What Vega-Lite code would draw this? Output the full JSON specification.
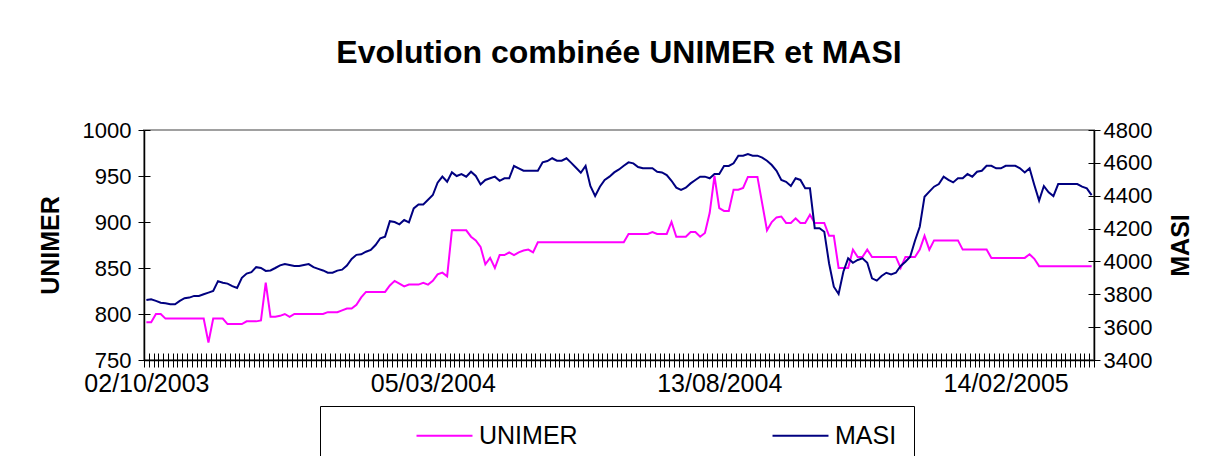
{
"$schema": "https://vega.github.io/schema/vega-lite/v6.json",
"width": 950, "height": 230,
"autosize": "none",
"padding": {"left": 144, "top": 130, "right": 122, "bottom": 96},
"background": "white",
"title": {"text": "Evolution combinée UNIMER et MASI", "fontSize": 32, "font": "Liberation Sans", "fontWeight": "bold", "anchor": "middle", "frame": "group", "baseline": "alphabetic", "offset": 24, "color": "#000"},
"config": {
  "view": {"stroke": "#A0A0A0", "strokeWidth": 2},
  "axis": {"labelFont": "Liberation Sans", "titleFont": "Liberation Sans", "labelColor": "#000", "titleColor": "#000", "domainColor": "#000", "tickColor": "#000", "grid": false}
},
"data": {"values": [
{"i":0,"UNIMER":791,"MASI":3765},{"i":1,"UNIMER":791,"MASI":3770},{"i":2,"UNIMER":800,"MASI":3760},{"i":3,"UNIMER":800,"MASI":3749},{"i":4,"UNIMER":795,"MASI":3745},
{"i":5,"UNIMER":795,"MASI":3739},{"i":6,"UNIMER":795,"MASI":3739},{"i":7,"UNIMER":795,"MASI":3760},{"i":8,"UNIMER":795,"MASI":3776},{"i":9,"UNIMER":795,"MASI":3780},
{"i":10,"UNIMER":795,"MASI":3790},{"i":11,"UNIMER":795,"MASI":3790},{"i":12,"UNIMER":795,"MASI":3800},{"i":13,"UNIMER":769,"MASI":3810},{"i":14,"UNIMER":795,"MASI":3820},
{"i":15,"UNIMER":795,"MASI":3880},{"i":16,"UNIMER":795,"MASI":3870},{"i":17,"UNIMER":789,"MASI":3865},{"i":18,"UNIMER":789,"MASI":3850},{"i":19,"UNIMER":789,"MASI":3838},
{"i":20,"UNIMER":789,"MASI":3900},{"i":21,"UNIMER":792,"MASI":3926},{"i":22,"UNIMER":792,"MASI":3935},{"i":23,"UNIMER":792,"MASI":3965},{"i":24,"UNIMER":793,"MASI":3960},
{"i":25,"UNIMER":834,"MASI":3942},{"i":26,"UNIMER":797,"MASI":3945},{"i":27,"UNIMER":797,"MASI":3960},{"i":28,"UNIMER":798,"MASI":3976},{"i":29,"UNIMER":800,"MASI":3984},
{"i":30,"UNIMER":797,"MASI":3978},{"i":31,"UNIMER":800,"MASI":3972},{"i":32,"UNIMER":800,"MASI":3972},{"i":33,"UNIMER":800,"MASI":3978},{"i":34,"UNIMER":800,"MASI":3984},
{"i":35,"UNIMER":800,"MASI":3965},{"i":36,"UNIMER":800,"MASI":3955},{"i":37,"UNIMER":800,"MASI":3945},{"i":38,"UNIMER":802,"MASI":3931},{"i":39,"UNIMER":802,"MASI":3931},
{"i":40,"UNIMER":802,"MASI":3944},{"i":41,"UNIMER":804,"MASI":3950},{"i":42,"UNIMER":806,"MASI":3975},{"i":43,"UNIMER":806,"MASI":4015},{"i":44,"UNIMER":810,"MASI":4040},
{"i":45,"UNIMER":818,"MASI":4043},{"i":46,"UNIMER":824,"MASI":4059},{"i":47,"UNIMER":824,"MASI":4070},{"i":48,"UNIMER":824,"MASI":4100},{"i":49,"UNIMER":824,"MASI":4141},
{"i":50,"UNIMER":824,"MASI":4151},{"i":51,"UNIMER":831,"MASI":4245},{"i":52,"UNIMER":836,"MASI":4240},{"i":53,"UNIMER":833,"MASI":4226},{"i":54,"UNIMER":830,"MASI":4252},
{"i":55,"UNIMER":832,"MASI":4238},{"i":56,"UNIMER":832,"MASI":4323},{"i":57,"UNIMER":832,"MASI":4347},{"i":58,"UNIMER":834,"MASI":4347},{"i":59,"UNIMER":832,"MASI":4375},
{"i":60,"UNIMER":836,"MASI":4404},{"i":61,"UNIMER":843,"MASI":4479},{"i":62,"UNIMER":845,"MASI":4516},{"i":63,"UNIMER":841,"MASI":4485},{"i":64,"UNIMER":891,"MASI":4542},
{"i":65,"UNIMER":891,"MASI":4520},{"i":66,"UNIMER":891,"MASI":4532},{"i":67,"UNIMER":891,"MASI":4516},{"i":68,"UNIMER":884,"MASI":4546},{"i":69,"UNIMER":880,"MASI":4520},
{"i":70,"UNIMER":873,"MASI":4469},{"i":71,"UNIMER":854,"MASI":4496},{"i":72,"UNIMER":861,"MASI":4506},{"i":73,"UNIMER":850,"MASI":4516},{"i":74,"UNIMER":864,"MASI":4491},
{"i":75,"UNIMER":864,"MASI":4506},{"i":76,"UNIMER":867,"MASI":4506},{"i":77,"UNIMER":864,"MASI":4581},{"i":78,"UNIMER":867,"MASI":4567},{"i":79,"UNIMER":869,"MASI":4552},
{"i":80,"UNIMER":870,"MASI":4552},{"i":81,"UNIMER":867,"MASI":4552},{"i":82,"UNIMER":878,"MASI":4552},{"i":83,"UNIMER":878,"MASI":4603},{"i":84,"UNIMER":878,"MASI":4611},
{"i":85,"UNIMER":878,"MASI":4628},{"i":86,"UNIMER":878,"MASI":4613},{"i":87,"UNIMER":878,"MASI":4613},{"i":88,"UNIMER":878,"MASI":4628},{"i":89,"UNIMER":878,"MASI":4600},
{"i":90,"UNIMER":878,"MASI":4570},{"i":91,"UNIMER":878,"MASI":4540},{"i":92,"UNIMER":878,"MASI":4581},{"i":93,"UNIMER":878,"MASI":4459},{"i":94,"UNIMER":878,"MASI":4398},
{"i":95,"UNIMER":878,"MASI":4455},{"i":96,"UNIMER":878,"MASI":4496},{"i":97,"UNIMER":878,"MASI":4516},{"i":98,"UNIMER":878,"MASI":4542},{"i":99,"UNIMER":878,"MASI":4560},
{"i":100,"UNIMER":878,"MASI":4582},{"i":101,"UNIMER":887,"MASI":4603},{"i":102,"UNIMER":887,"MASI":4597},{"i":103,"UNIMER":887,"MASI":4575},{"i":104,"UNIMER":887,"MASI":4567},
{"i":105,"UNIMER":887,"MASI":4567},{"i":106,"UNIMER":889,"MASI":4567},{"i":107,"UNIMER":887,"MASI":4546},{"i":108,"UNIMER":887,"MASI":4542},{"i":109,"UNIMER":887,"MASI":4526},
{"i":110,"UNIMER":900,"MASI":4491},{"i":111,"UNIMER":884,"MASI":4449},{"i":112,"UNIMER":884,"MASI":4435},{"i":113,"UNIMER":884,"MASI":4449},{"i":114,"UNIMER":889,"MASI":4475},
{"i":115,"UNIMER":889,"MASI":4496},{"i":116,"UNIMER":884,"MASI":4516},{"i":117,"UNIMER":888,"MASI":4516},{"i":118,"UNIMER":910,"MASI":4506},{"i":119,"UNIMER":950,"MASI":4532},
{"i":120,"UNIMER":915,"MASI":4532},{"i":121,"UNIMER":912,"MASI":4581},{"i":122,"UNIMER":912,"MASI":4581},{"i":123,"UNIMER":935,"MASI":4597},{"i":124,"UNIMER":935,"MASI":4644},
{"i":125,"UNIMER":937,"MASI":4644},{"i":126,"UNIMER":949,"MASI":4654},{"i":127,"UNIMER":949,"MASI":4644},{"i":128,"UNIMER":949,"MASI":4644},{"i":129,"UNIMER":920,"MASI":4632},
{"i":130,"UNIMER":891,"MASI":4613},{"i":131,"UNIMER":900,"MASI":4587},{"i":132,"UNIMER":905,"MASI":4552},{"i":133,"UNIMER":906,"MASI":4496},{"i":134,"UNIMER":899,"MASI":4485},
{"i":135,"UNIMER":899,"MASI":4459},{"i":136,"UNIMER":904,"MASI":4506},{"i":137,"UNIMER":899,"MASI":4496},{"i":138,"UNIMER":899,"MASI":4445},{"i":139,"UNIMER":908,"MASI":4445},
{"i":140,"UNIMER":899,"MASI":4202},{"i":141,"UNIMER":899,"MASI":4202},{"i":142,"UNIMER":899,"MASI":4181},{"i":143,"UNIMER":885,"MASI":3989},{"i":144,"UNIMER":885,"MASI":3846},
{"i":145,"UNIMER":850,"MASI":3802},{"i":146,"UNIMER":850,"MASI":3937},{"i":147,"UNIMER":850,"MASI":4019},{"i":148,"UNIMER":870,"MASI":3992},{"i":149,"UNIMER":862,"MASI":4009},
{"i":150,"UNIMER":862,"MASI":4019},{"i":151,"UNIMER":870,"MASI":3992},{"i":152,"UNIMER":862,"MASI":3897},{"i":153,"UNIMER":862,"MASI":3883},{"i":154,"UNIMER":862,"MASI":3911},
{"i":155,"UNIMER":862,"MASI":3931},{"i":156,"UNIMER":862,"MASI":3921},{"i":157,"UNIMER":862,"MASI":3931},{"i":158,"UNIMER":850,"MASI":3972},{"i":159,"UNIMER":862,"MASI":3998},
{"i":160,"UNIMER":862,"MASI":4029},{"i":161,"UNIMER":862,"MASI":4126},{"i":162,"UNIMER":870,"MASI":4211},{"i":163,"UNIMER":885,"MASI":4394},{"i":164,"UNIMER":870,"MASI":4425},
{"i":165,"UNIMER":880,"MASI":4455},{"i":166,"UNIMER":880,"MASI":4471},{"i":167,"UNIMER":880,"MASI":4516},{"i":168,"UNIMER":880,"MASI":4496},{"i":169,"UNIMER":880,"MASI":4481},
{"i":170,"UNIMER":880,"MASI":4506},{"i":171,"UNIMER":870,"MASI":4506},{"i":172,"UNIMER":870,"MASI":4532},{"i":173,"UNIMER":870,"MASI":4516},{"i":174,"UNIMER":870,"MASI":4546},
{"i":175,"UNIMER":870,"MASI":4552},{"i":176,"UNIMER":870,"MASI":4582},{"i":177,"UNIMER":861,"MASI":4582},{"i":178,"UNIMER":861,"MASI":4567},{"i":179,"UNIMER":861,"MASI":4567},
{"i":180,"UNIMER":861,"MASI":4582},{"i":181,"UNIMER":861,"MASI":4582},{"i":182,"UNIMER":861,"MASI":4582},{"i":183,"UNIMER":861,"MASI":4567},{"i":184,"UNIMER":861,"MASI":4542},
{"i":185,"UNIMER":865,"MASI":4567},{"i":186,"UNIMER":860,"MASI":4465},{"i":187,"UNIMER":852,"MASI":4370},{"i":188,"UNIMER":852,"MASI":4459},{"i":189,"UNIMER":852,"MASI":4421},
{"i":190,"UNIMER":852,"MASI":4398},{"i":191,"UNIMER":852,"MASI":4471},{"i":192,"UNIMER":852,"MASI":4471},{"i":193,"UNIMER":852,"MASI":4471},{"i":194,"UNIMER":852,"MASI":4471},
{"i":195,"UNIMER":852,"MASI":4471},{"i":196,"UNIMER":852,"MASI":4455},{"i":197,"UNIMER":852,"MASI":4445},{"i":198,"UNIMER":852,"MASI":4404}
]},
"layer": [
  {
    "mark": {"type": "line", "strokeWidth": 2},
    "encoding": {
      "x": {"field": "i", "type": "ordinal", "bandPosition": 0.5, "scale": {"type": "band", "paddingInner": 0, "paddingOuter": 0},
        "axis": {"orient": "bottom", "tickBand": "extent", "tickSize": 7, "tickWidth": 1, "domainWidth": 1.5, "labelFontSize": 25, "labelPadding": 4, "labelOverlap": false, "labelAngle": 0, "title": null,
          "labelExpr": "datum.value == 0 ? '02/10/2003' : datum.value == 60 ? '05/03/2004' : datum.value == 120 ? '13/08/2004' : datum.value == 180 ? '14/02/2005' : ''"}},
      "y": {"field": "UNIMER", "type": "quantitative", "scale": {"domain": [750, 1000], "nice": false, "zero": false},
        "axis": {"orient": "left", "values": [750, 800, 850, 900, 950, 1000], "format": "d", "tickSize": 6, "domainWidth": 1.5, "labelFontSize": 22, "labelPadding": 7, "title": "UNIMER", "titleFontSize": 25, "titleFontWeight": "bold", "titlePadding": 19}},
      "color": {"datum": "UNIMER", "scale": {"domain": ["UNIMER", "MASI"], "range": ["#FF00FF", "#000080"]},
        "legend": {"orient": "none", "legendX": 176, "legendY": 276, "direction": "horizontal", "title": null, "symbolType": "M-6,0H6", "symbolSize": 87, "symbolStrokeWidth": 2, "labelFontSize": 25, "labelFont": "Liberation Sans", "labelColor": "#000", "labelOffset": 22, "columnPadding": 115, "padding": 17, "strokeColor": "#000", "fillColor": "#fff", "symbolOffset": 95}}
    }
  },
  {
    "mark": {"type": "line", "strokeWidth": 2},
    "encoding": {
      "x": {"field": "i", "type": "ordinal", "bandPosition": 0.5, "axis": null},
      "y": {"field": "MASI", "type": "quantitative", "scale": {"domain": [3400, 4800], "nice": false, "zero": false},
        "axis": {"orient": "right", "values": [3400, 3600, 3800, 4000, 4200, 4400, 4600, 4800], "format": "d", "tickSize": 6, "domainWidth": 1.5, "labelFontSize": 22, "labelPadding": 3, "title": "MASI", "titleFontSize": 25, "titleFontWeight": "bold", "titleAngle": -90, "titleBaseline": "top", "titlePadding": 17}},
      "color": {"datum": "MASI"}
    }
  },
  {
    "mark": {"type": "line", "opacity": 0},
    "encoding": {
      "x": {"field": "i", "type": "ordinal", "bandPosition": 0.5,
        "axis": {"orient": "bottom", "tickBand": "extent", "offset": -7, "tickSize": 7, "tickWidth": 1, "domain": false, "labels": false, "title": null}},
      "y": {"field": "UNIMER", "type": "quantitative", "scale": {"domain": [750, 1000], "nice": false, "zero": false},
        "axis": {"orient": "left", "values": [750, 800, 850, 900, 950, 1000], "offset": -6, "tickSize": 6, "domain": false, "labels": false, "title": null}}
    }
  },
  {
    "mark": {"type": "line", "opacity": 0},
    "encoding": {
      "x": {"field": "i", "type": "ordinal", "bandPosition": 0.5, "axis": null},
      "y": {"field": "MASI", "type": "quantitative", "scale": {"domain": [3400, 4800], "nice": false, "zero": false},
        "axis": {"orient": "right", "values": [3400, 3600, 3800, 4000, 4200, 4400, 4600, 4800], "offset": -6, "tickSize": 6, "domain": false, "labels": false, "title": null}}
    }
  }
],
"resolve": {"scale": {"y": "independent"}, "axis": {"x": "independent", "y": "independent"}}
}
